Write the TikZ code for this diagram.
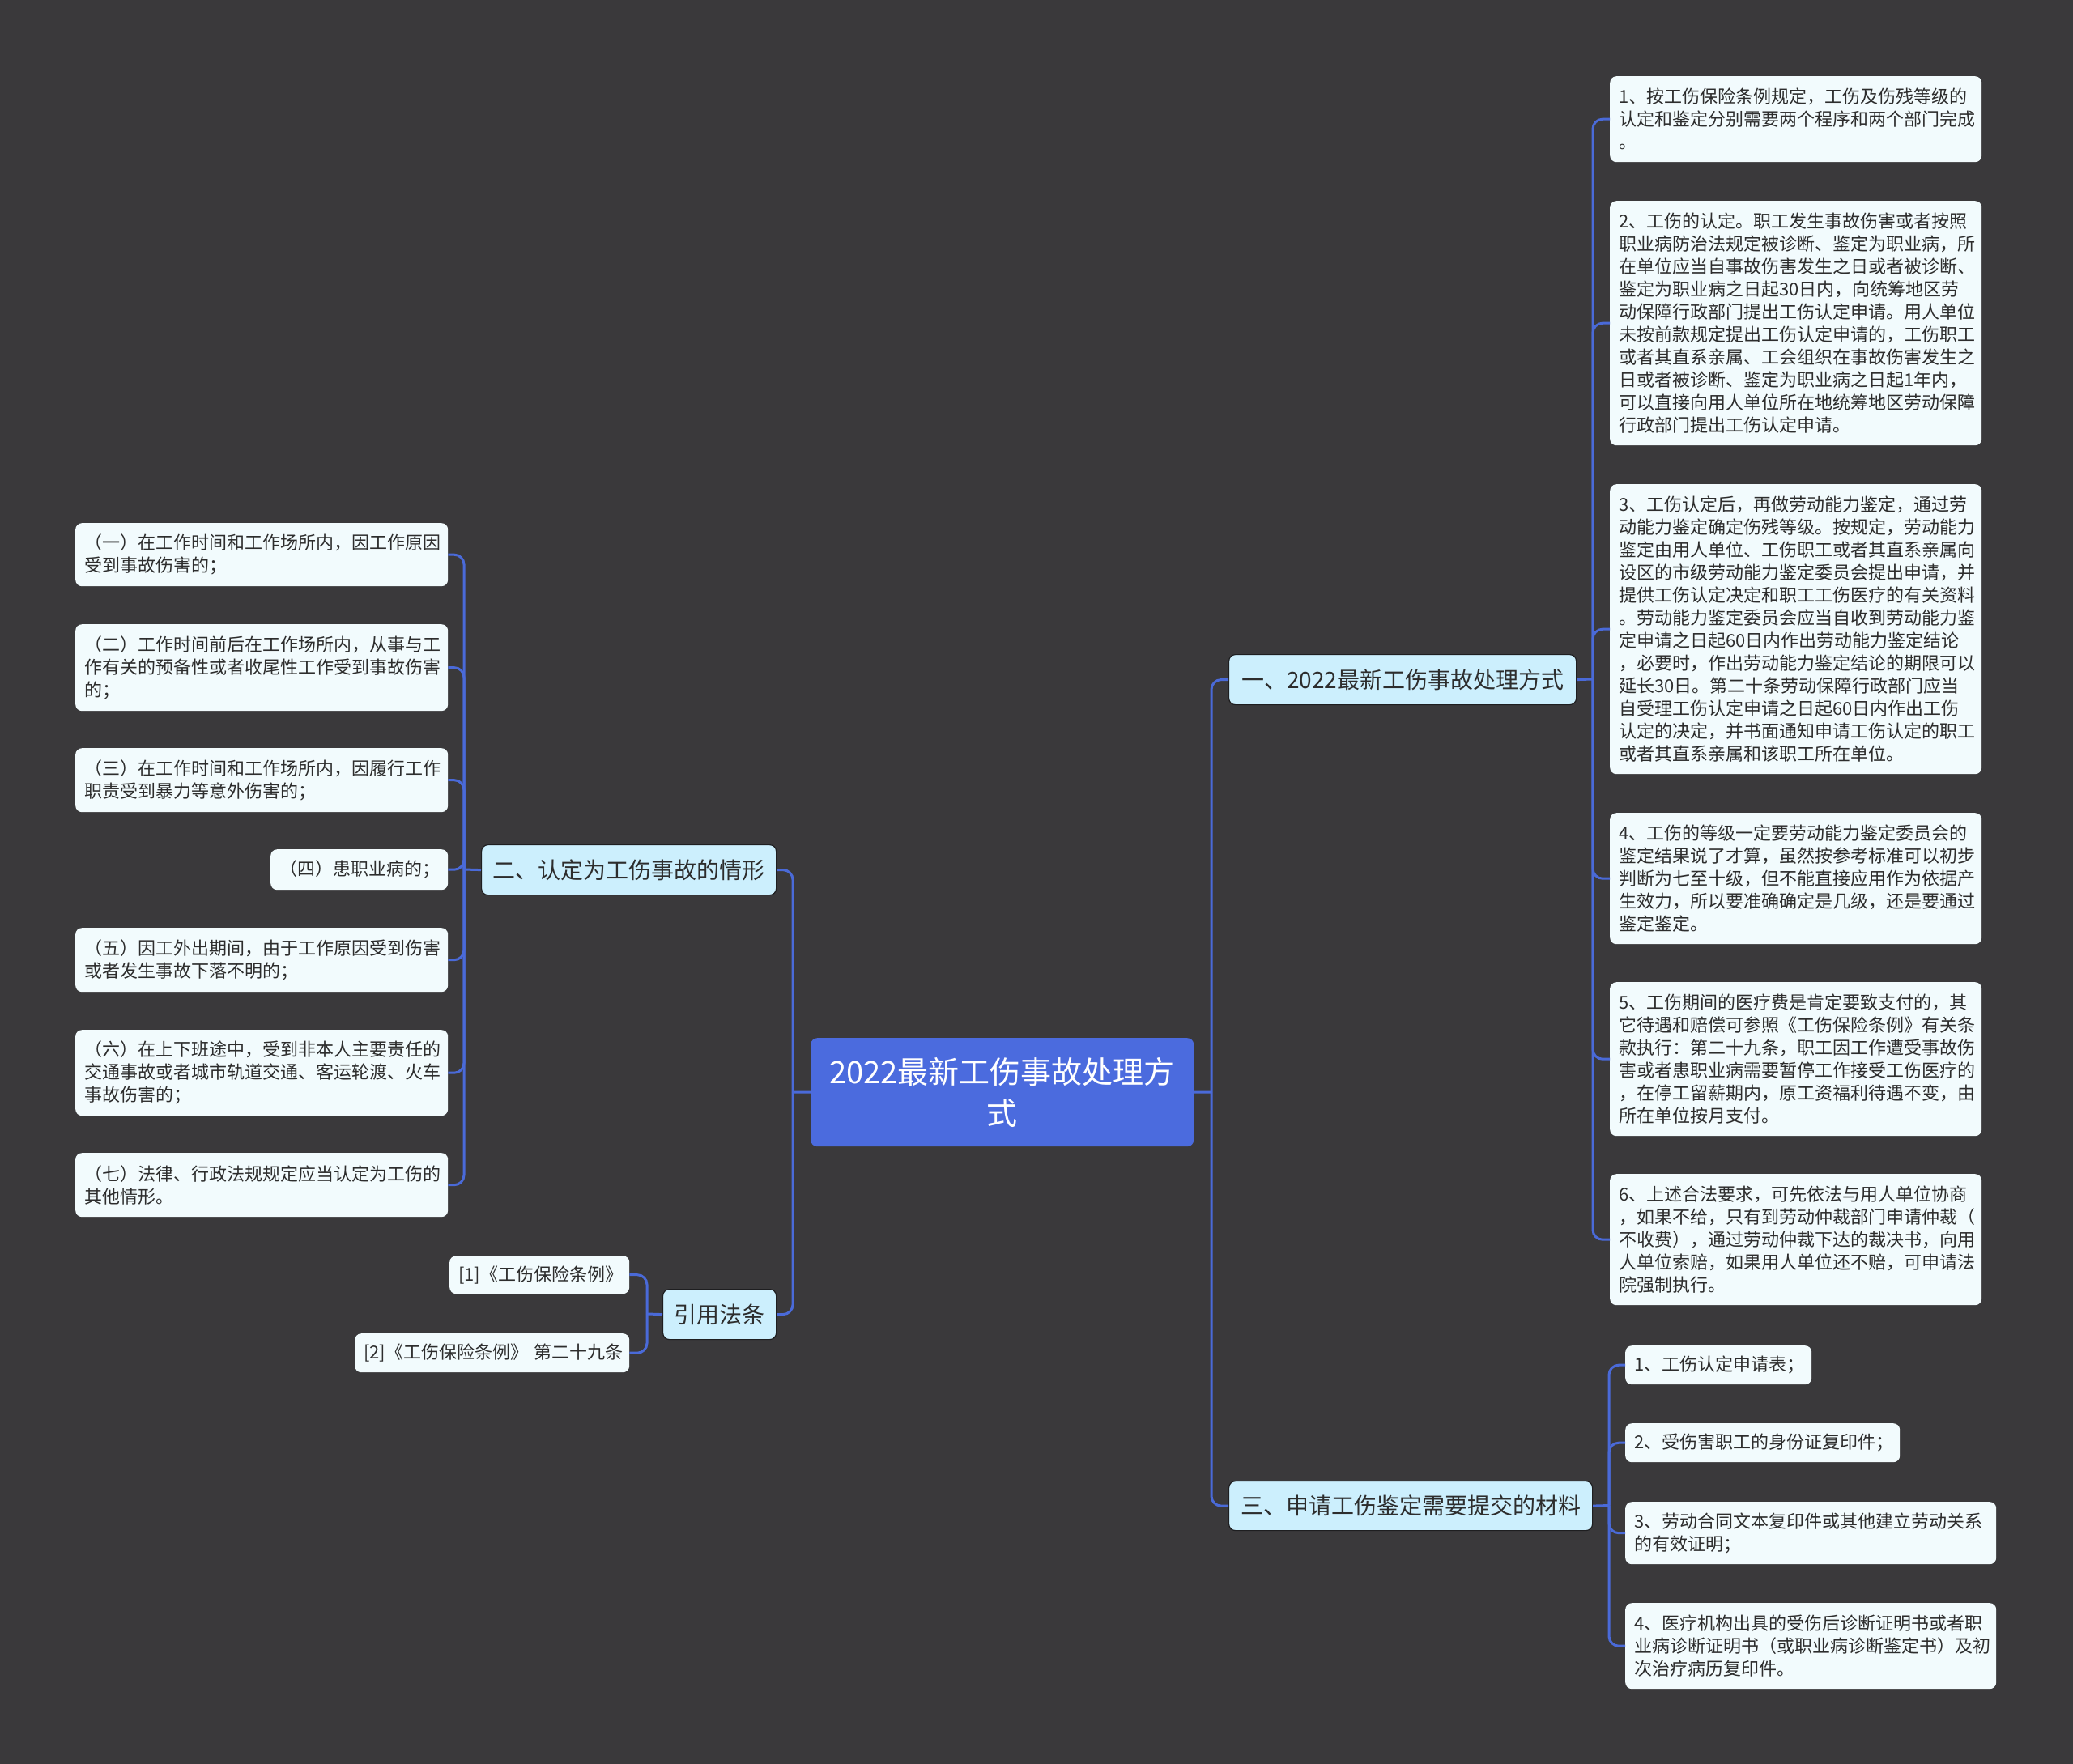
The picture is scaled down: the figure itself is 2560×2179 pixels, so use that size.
\documentclass[tikz,border=0pt]{standalone}
\usepackage{fontspec}
\setmainfont{Noto Sans CJK SC}
\setlength{\parindent}{0pt}
\definecolor{bgc}{RGB}{58,57,59}
\definecolor{linec}{RGB}{74,106,216}
\definecolor{rootc}{RGB}{75,107,222}
\definecolor{mainc}{RGB}{204,239,253}
\definecolor{leafc}{RGB}{242,251,253}
\definecolor{txtc}{RGB}{45,45,45}
\tikzset{
  conn/.style={draw=linec, line width=3pt, rounded corners=12pt},
  leaf/.style={fill=leafc, rounded corners=8pt, anchor=north west, inner xsep=11pt, inner ysep=0pt,
    align=left, text=txtc, font={\fontsize{22pt}{28pt}\selectfont}},
  mainnode/.style={fill=mainc, draw={rgb,255:red,30;green,30;blue,32}, line width=1.2pt, rounded corners=8pt, anchor=north west,
    inner xsep=12pt, inner ysep=0pt, align=center, text=txtc, font={\fontsize{28pt}{34pt}\selectfont}},
  rootnode/.style={fill=rootc, rounded corners=8pt, anchor=north west, inner xsep=12pt, inner ysep=0pt,
    align=center, text=white, font={\fontsize{38pt}{51pt}\selectfont}}
}
\begin{document}
\begin{tikzpicture}[x=1pt,y=-1pt]
\fill[bgc] (0,0) rectangle (2560,2179);
\useasboundingbox (0,0) rectangle (2560,2179);

% root
\node[rootnode, minimum width=473pt, minimum height=134pt, text width=449pt] (root) at (1001,1282)
  {2022最新工伤事故处理方\\式};

% main nodes
\node[mainnode, minimum width=429pt, minimum height=62pt] (n1) at (1517,808) {一、2022最新工伤事故处理方式};
\node[mainnode, minimum width=449pt, minimum height=61pt] (n3) at (1517,1829) {三、申请工伤鉴定需要提交的材料};
\node[mainnode, minimum width=364pt, minimum height=62pt] (n2) at (594,1043) {二、认定为工伤事故的情形};
\node[mainnode, minimum width=140pt, minimum height=62pt] (n4) at (818,1592) {引用法条};

% branch one leaves
\node[leaf, minimum width=459pt, minimum height=106pt, text width=437pt] (b1) at (1988,94)
  {1、按工伤保险条例规定，工伤及伤残等级的\\认定和鉴定分别需要两个程序和两个部门完成\\。};
\node[leaf, minimum width=459pt, minimum height=302pt, text width=437pt] (b2) at (1988,248)
  {2、工伤的认定。职工发生事故伤害或者按照\\职业病防治法规定被诊断、鉴定为职业病，所\\在单位应当自事故伤害发生之日或者被诊断、\\鉴定为职业病之日起30日内，向统筹地区劳\\动保障行政部门提出工伤认定申请。用人单位\\未按前款规定提出工伤认定申请的，工伤职工\\或者其直系亲属、工会组织在事故伤害发生之\\日或者被诊断、鉴定为职业病之日起1年内，\\可以直接向用人单位所在地统筹地区劳动保障\\行政部门提出工伤认定申请。};
\node[leaf, minimum width=459pt, minimum height=358pt, text width=437pt] (b3) at (1988,598)
  {3、工伤认定后，再做劳动能力鉴定，通过劳\\动能力鉴定确定伤残等级。按规定，劳动能力\\鉴定由用人单位、工伤职工或者其直系亲属向\\设区的市级劳动能力鉴定委员会提出申请，并\\提供工伤认定决定和职工工伤医疗的有关资料\\。劳动能力鉴定委员会应当自收到劳动能力鉴\\定申请之日起60日内作出劳动能力鉴定结论\\，必要时，作出劳动能力鉴定结论的期限可以\\延长30日。第二十条劳动保障行政部门应当\\自受理工伤认定申请之日起60日内作出工伤\\认定的决定，并书面通知申请工伤认定的职工\\或者其直系亲属和该职工所在单位。};
\node[leaf, minimum width=459pt, minimum height=162pt, text width=437pt] (b4) at (1988,1004)
  {4、工伤的等级一定要劳动能力鉴定委员会的\\鉴定结果说了才算，虽然按参考标准可以初步\\判断为七至十级，但不能直接应用作为依据产\\生效力，所以要准确确定是几级，还是要通过\\鉴定鉴定。};
\node[leaf, minimum width=459pt, minimum height=190pt, text width=437pt] (b5) at (1988,1213)
  {5、工伤期间的医疗费是肯定要致支付的，其\\它待遇和赔偿可参照《工伤保险条例》有关条\\款执行：第二十九条，职工因工作遭受事故伤\\害或者患职业病需要暂停工作接受工伤医疗的\\，在停工留薪期内，原工资福利待遇不变，由\\所在单位按月支付。};
\node[leaf, minimum width=459pt, minimum height=162pt, text width=437pt] (b6) at (1988,1450)
  {6、上述合法要求，可先依法与用人单位协商\\，如果不给，只有到劳动仲裁部门申请仲裁（\\不收费），通过劳动仲裁下达的裁决书，向用\\人单位索赔，如果用人单位还不赔，可申请法\\院强制执行。};

% branch three leaves
\node[leaf, minimum width=230pt, minimum height=48pt, text width=208pt] (m1) at (2007,1662) {1、工伤认定申请表；};
\node[leaf, minimum width=339pt, minimum height=48pt, text width=317pt] (m2) at (2007,1758) {2、受伤害职工的身份证复印件；};
\node[leaf, minimum width=458pt, minimum height=77pt, text width=436pt] (m3) at (2007,1855)
  {3、劳动合同文本复印件或其他建立劳动关系\\的有效证明；};
\node[leaf, minimum width=458pt, minimum height=106pt, text width=436pt] (m4) at (2007,1980)
  {4、医疗机构出具的受伤后诊断证明书或者职\\业病诊断证明书（或职业病诊断鉴定书）及初\\次治疗病历复印件。};

% branch two leaves
\node[leaf, minimum width=460pt, minimum height=78pt, text width=438pt] (l1) at (93,646)
  {（一）在工作时间和工作场所内，因工作原因\\受到事故伤害的；};
\node[leaf, minimum width=460pt, minimum height=107pt, text width=438pt] (l2) at (93,771)
  {（二）工作时间前后在工作场所内，从事与工\\作有关的预备性或者收尾性工作受到事故伤害\\的；};
\node[leaf, minimum width=460pt, minimum height=79pt, text width=438pt] (l3) at (93,924)
  {（三）在工作时间和工作场所内，因履行工作\\职责受到暴力等意外伤害的；};
\node[leaf, minimum width=219pt, minimum height=50pt, text width=197pt] (l4) at (334,1049)
  {（四）患职业病的；};
\node[leaf, minimum width=460pt, minimum height=79pt, text width=438pt] (l5) at (93,1146)
  {（五）因工外出期间，由于工作原因受到伤害\\或者发生事故下落不明的；};
\node[leaf, minimum width=460pt, minimum height=106pt, text width=438pt] (l6) at (93,1272)
  {（六）在上下班途中，受到非本人主要责任的\\交通事故或者城市轨道交通、客运轮渡、火车\\事故伤害的；};
\node[leaf, minimum width=460pt, minimum height=79pt, text width=438pt] (l7) at (93,1424)
  {（七）法律、行政法规规定应当认定为工伤的\\其他情形。};

% references
\node[leaf, minimum width=222pt, minimum height=47pt, text width=200pt] (r1) at (555,1551) {[1]《工伤保险条例》};
\node[leaf, minimum width=339pt, minimum height=48pt, text width=317pt] (r2) at (438,1647) {\mbox{[2]《工伤保险条例》 第二十九条}};

% connectors
\coordinate (sR) at (1496,1349);
\coordinate (sL) at (979,1349);
\coordinate (s1) at (1967,839);
\coordinate (s3) at (1987,1859.5);
\coordinate (s2) at (573,1074);
\coordinate (s4) at (799,1623);

\draw[conn] (root.east) -- (sR);
\draw[conn] (sR) |- (n1.west);
\draw[conn] (sR) |- (n3.west);
\draw[conn] (root.west) -- (sL);
\draw[conn] (sL) |- (n2.east);
\draw[conn] (sL) |- (n4.east);

\draw[conn] (n1.east) -- (s1);
\foreach \c in {b1,b2,b3,b4,b5,b6} \draw[conn] (s1) |- (\c.west);
\draw[conn] (n3.east) -- (s3);
\foreach \c in {m1,m2,m3,m4} \draw[conn] (s3) |- (\c.west);
\draw[conn] (n2.west) -- (s2);
\foreach \c in {l1,l2,l3,l4,l5,l6,l7} \draw[conn] (s2) |- (\c.east);
\draw[conn] (n4.west) -- (s4);
\foreach \c in {r1,r2} \draw[conn] (s4) |- (\c.east);
\end{tikzpicture}
\end{document}
